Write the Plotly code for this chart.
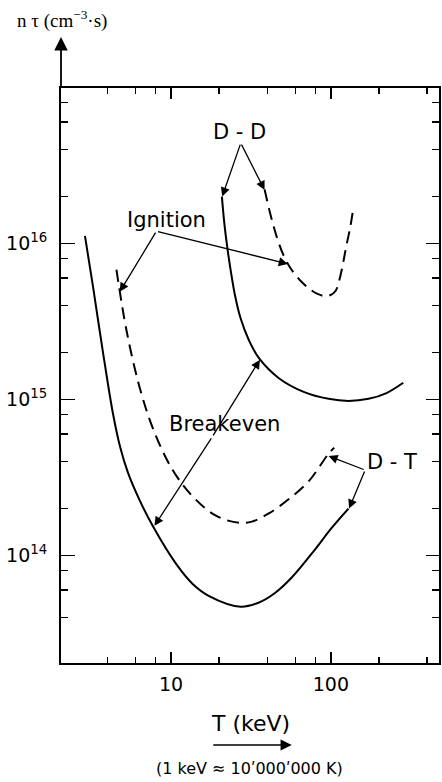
import math
import plotly.graph_objects as go

# ---------------- data ----------------
# D-T breakeven (solid)
dt_be_T = [2.89, 3.25, 3.75, 4.33, 4.79, 5.37, 6.31, 7.67, 10.7, 13.6, 17.3, 27.3, 35.5, 44.7, 57.1, 80, 100, 129]
dt_be_nt = [1.12e16, 5.25e15, 2.0e15, 8.1e14, 5.0e14, 3.4e14, 2.3e14, 1.55e14, 8.9e13, 6.6e13,
            5.5e13, 4.7e13, 5.0e13, 5.75e13, 7.25e13, 1.1e14, 1.48e14, 2.0e14]
# D-T ignition (dashed)
dt_ig_T = [4.55, 5.25, 6.35, 7.8, 10.2, 13.6, 19.1, 26.6, 32, 40.9, 54.6, 72.8, 96.9, 105]
dt_ig_nt = [6.8e15, 2.8e15, 1.2e15, 6.3e14, 3.55e14, 2.4e14, 1.8e14, 1.62e14, 1.65e14,
            1.86e14, 2.3e14, 3.0e14, 4.5e14, 4.9e14]
# D-D breakeven (solid)
dd_be_T = [20.8, 21.6, 22.6, 23.6, 25.1, 27.2, 30.7, 35.5, 47.3, 67.6, 96.8, 129, 172, 223, 284]
dd_be_nt = [2.0e16, 1.315e16, 9.08e15, 6.76e15, 4.68e15, 3.33e15, 2.40e15, 1.84e15, 1.37e15,
            1.12e15, 1.01e15, 9.8e14, 1.01e15, 1.10e15, 1.28e15]
# D-D ignition (dashed)
dd_ig_T = [38.5, 41.8, 45.9, 50.8, 56.9, 64.8, 73.7, 82.6, 91.4, 99.6, 107, 113, 119, 125, 132, 137]
dd_ig_nt = [2.22e16, 1.545e16, 1.10e16, 8.32e15, 6.76e15, 5.75e15, 5.11e15, 4.75e15, 4.61e15,
            4.68e15, 4.96e15, 5.83e15, 7.39e15, 9.64e15, 1.257e16, 1.59e16]

x_tick_vals = [10, 100]
x_tick_text = ["10", "100"]
x_minor_vals = [4, 6, 8, 20, 40, 60, 80, 200, 400]
y_tick_vals = [1e14, 1e15, 1e16]
y_tick_text = ["10<sup>14</sup>", "10<sup>15</sup>", "10<sup>16</sup>"]
y_minor_vals = [k * 10 ** e for e in (13, 14, 15, 16) for k in (2, 4, 6, 8)]

# labels: (text, T, ntau)
labels = [
    ("D - D", 27.0, 5.2e16),
    ("Ignition", 9.3, 1.42e16),
    ("Breakeven", 21.6, 6.97e14),
    ("D - T", 242, 3.98e14),
]
# arrows: (tail T, tail ntau, tip T, tip ntau)
arrows = [
    (27.3, 4.4e16, 20.9, 2.0e16),
    (27.3, 4.4e16, 38.5, 2.2e16),
    (8.1, 1.2e16, 4.77, 4.9e15),
    (8.1, 1.2e16, 53.8, 7.4e15),
    (18.1, 5.76e14, 7.87, 1.55e14),
    (18.1, 5.76e14, 36.0, 1.80e15),
    (164, 3.53e14, 96.8, 4.35e14),
    (164, 3.53e14, 130, 2.0e14),
]

FONT = "DejaVu Sans"

fig = go.Figure()
line_solid = dict(color="black", width=2, shape="spline", smoothing=1)
line_dash = dict(color="black", width=2, dash="12px,7px", shape="spline", smoothing=1)
fig.add_trace(go.Scatter(x=dt_be_T, y=dt_be_nt, mode="lines", line=line_solid, hoverinfo="skip"))
fig.add_trace(go.Scatter(x=dt_ig_T, y=dt_ig_nt, mode="lines", line=line_dash, hoverinfo="skip"))
fig.add_trace(go.Scatter(x=dd_be_T, y=dd_be_nt, mode="lines", line=line_solid, hoverinfo="skip"))
fig.add_trace(go.Scatter(x=dd_ig_T, y=dd_ig_nt, mode="lines", line=line_dash, hoverinfo="skip"))
# invisible trace to activate the mirrored tick axes (top / right)
fig.add_trace(go.Scatter(x=dt_be_T, y=dt_be_nt, mode="lines", xaxis="x2", yaxis="y2",
                         line=dict(color="rgba(0,0,0,0)"), hoverinfo="skip"))

annotations = []
for text, T, n in labels:
    annotations.append(dict(x=math.log10(T), y=math.log10(n), xref="x", yref="y", text=text,
                            xanchor="center", yanchor="middle",
                            showarrow=False, font=dict(family=FONT, size=21, color="black")))
for tT, tn, hT, hn in arrows:
    annotations.append(dict(x=math.log10(hT), y=math.log10(hn), ax=math.log10(tT), ay=math.log10(tn),
                            xref="x", yref="y", axref="x", ayref="y", text="", showarrow=True,
                            arrowhead=2, arrowsize=1.4, arrowwidth=1.3, arrowcolor="black", standoff=0))

W, H = 442, 782
L, R, T_, B = 61, 441, 88, 663


def px(xp):
    return (xp - L) / (R - L)


def py(yp):
    return (B - yp) / (B - T_)


# vertical axis arrow above frame
annotations.append(dict(x=0, y=py(37), xref="paper", yref="paper", ax=0, ay=51, text="",
                        showarrow=True, arrowhead=2, arrowsize=1.5, arrowwidth=1.8,
                        arrowcolor="black", standoff=0))
# horizontal arrow under T (keV)
annotations.append(dict(x=px(293), y=py(745), xref="paper", yref="paper", ax=-80, ay=0, text="",
                        showarrow=True, arrowhead=2, arrowsize=1.4, arrowwidth=1.6,
                        arrowcolor="black", standoff=0))
annotations.append(dict(x=px(252), y=py(723), xref="paper", yref="paper", text="T (keV)",
                        xanchor="center", yanchor="middle",
                        showarrow=False, font=dict(family=FONT, size=22, color="black")))
annotations.append(dict(x=px(250), y=py(768), xref="paper", yref="paper",
                        text="(1 keV \u2248 10\u02b9000\u02b9000 K)", xanchor="center", yanchor="middle",
                        showarrow=False, font=dict(family=FONT, size=16, color="black")))
annotations.append(dict(x=px(62), y=py(20), xref="paper", yref="paper",
                        text="n \u03c4 (cm<sup>\u22123</sup>\u00b7s)", xanchor="center", yanchor="middle",
                        showarrow=False, font=dict(family="Liberation Serif", size=19, color="black")))

axis_common = dict(type="log", showline=True, linecolor="black", linewidth=2, mirror=True,
                   ticks="inside", tickcolor="black", tickwidth=1.5, showgrid=False, zeroline=False,
                   tickfont=dict(family=FONT, size=19, color="black"), tickmode="array")
XR = [0.311, 2.677]
YR = [13.311, 16.997]

fig.update_layout(
    width=W, height=H, autosize=False,
    margin=dict(l=L, r=W - R, t=T_, b=H - B, pad=0),
    paper_bgcolor="white", plot_bgcolor="white", showlegend=False,
    xaxis=dict(axis_common, range=XR, tickvals=x_tick_vals, ticktext=x_tick_text,
               ticklen=11, ticklabelstandoff=3,
               minor=dict(tickvals=x_minor_vals, ticklen=6, ticks="inside", tickwidth=1.5,
                          tickcolor="black", showgrid=False)),
    yaxis=dict(axis_common, range=YR, tickvals=y_tick_vals, ticktext=y_tick_text,
               ticklen=14, ticklabelstandoff=8,
               minor=dict(tickvals=y_minor_vals, ticklen=7, ticks="inside", tickwidth=1.5,
                          tickcolor="black", showgrid=False)),
    xaxis2=dict(type="log", range=XR, overlaying="x", side="top", showline=False, showgrid=False,
                zeroline=False, ticks="inside", ticklen=11, tickwidth=1.5, tickcolor="black",
                tickmode="array", tickvals=x_tick_vals, showticklabels=False,
                minor=dict(tickvals=x_minor_vals, ticklen=6, ticks="inside", tickwidth=1.5,
                           tickcolor="black", showgrid=False)),
    yaxis2=dict(type="log", range=YR, overlaying="y", side="right", showline=False, showgrid=False,
                zeroline=False, ticks="inside", ticklen=13, tickwidth=1.5, tickcolor="black",
                tickmode="array", tickvals=y_tick_vals, showticklabels=False,
                minor=dict(tickvals=y_minor_vals, ticklen=7, ticks="inside", tickwidth=1.5,
                           tickcolor="black", showgrid=False)),
    annotations=annotations,
)

# remove the browser's default 8px body margin so the figure sits at the page origin
fig.write_html("out.html", config={"displayModeBar": False, "staticPlot": True},
               post_script="document.body.style.margin='0';document.body.style.overflow='hidden';")
